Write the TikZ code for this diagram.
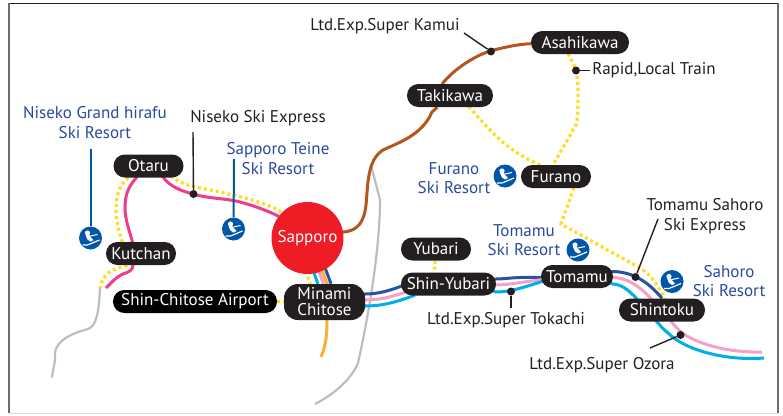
\documentclass[tikz,border=0pt]{standalone}
\usepackage{fontspec}
\setmainfont{PT Sans}
\usetikzlibrary{backgrounds}
\definecolor{stationblack}{HTML}{231F20}
\definecolor{resortblue}{HTML}{2A4A9F}
\definecolor{iconblue}{HTML}{0057A8}
\definecolor{kamuibrown}{HTML}{B5561F}
\definecolor{localyellow}{HTML}{FFDD22}
\definecolor{niseko}{HTML}{EE3D8B}
\definecolor{track}{HTML}{BDBDBD}
\definecolor{tokachi}{HTML}{2B52A0}
\definecolor{ozorapink}{HTML}{F5A0C8}
\definecolor{ozoracyan}{HTML}{00AEE8}
\definecolor{airorange}{HTML}{FBB034}
\definecolor{sapporored}{HTML}{EE1C25}
\tikzset{
  x=1pt,y=-1pt,
  station/.style={fill=stationblack,text=white,rounded corners=11.4pt,minimum height=23pt,inner sep=0pt,font=\fontsize{17}{18}\selectfont,align=center},
  lbl/.style={text=stationblack,font=\fontsize{17}{19.5}\selectfont,align=center,inner sep=0pt},
  resort/.style={text=resortblue,font=\fontsize{17}{19.5}\selectfont,align=center,inner sep=0pt},
  badge/.style={circle,fill=iconblue,minimum size=23pt,inner sep=0pt},
  dotmark/.style={circle,fill=stationblack,minimum size=8pt,inner sep=0pt},
  rail/.style={line width=3pt},
  local/.style={line width=3.3pt,localyellow,dash pattern=on 3pt off 3pt},
  leader/.style={stationblack,line width=1.4pt},
  bluelead/.style={iconblue,line width=2pt},
  skimark/.pic={
    \fill[white] (-3,-5) circle (2.6);
    \fill[white] (-5,-3) -- (-1,-3) -- (1,0) -- (3,2) -- (0,3.5) -- (-3,1.5) -- cycle;
    \draw[white,line width=1pt] (0,-2) -- (7,-3.5);
    \draw[white,line width=1.2pt] (-8,7) -- (-3,7) -- (9,2);
  },
}
\begin{document}
\begin{tikzpicture}
\useasboundingbox (0,0) rectangle (783,415);
% frame
\draw[line width=1pt,stationblack] (9,3.5) -- (778,3.5);
\draw[line width=1.5pt,gray!85!black] (9,3) -- (9,413);
\draw[line width=1.5pt,gray!85!black] (778,3) -- (778,413);
\draw[line width=1pt,gray!25] (9,413.5) -- (778,413.5);
% stations
\node[circle,fill=sapporored,minimum size=72pt,inner sep=0pt,text=white,font=\fontsize{17}{18}\selectfont] (sapporo) at (307.5,238) {Sapporo};
\node[station,minimum width=70pt] (otaru) at (148.5,166) {Otaru};
\node[station,minimum width=70pt] (kutchan) at (141,253.5) {Kutchan};
\node[station,minimum width=164pt,fill=black] (airport) at (195,301.5) {Shin-Chitose Airport};
\node[station,minimum width=81pt,minimum height=36pt,rounded corners=14pt,font=\fontsize{17}{16}\selectfont] (minami) at (324.5,302) {Minami\\Chitose};
\node[station,minimum width=98pt] (asahikawa) at (580,42.5) {Asahikawa};
\node[station,minimum width=86pt] (takikawa) at (450,95.5) {Takikawa};
\node[station,minimum width=70pt] (furano) at (556,176.5) {Furano};
\node[station,minimum width=70pt] (yubari) at (436,249) {Yubari};
\node[station,minimum width=95pt] (shinyubari) at (448.5,284) {Shin-Yubari};
\node[station,minimum width=72pt] (tomamu) at (577,276.5) {Tomamu};
\node[station,minimum width=86pt] (shintoku) at (662,310) {Shintoku};
% coordinates for line ends
\coordinate (gA) at (100,288);
\coordinate (gAend) at (52,377);
\coordinate (gBstart) at (371,165);
\coordinate (gBend) at (315,404);
\coordinate (airEnd) at (321,357);
\coordinate (pinkEnd) at (762,352);
\coordinate (cyanEnd) at (764,358);
\coordinate (nisekoEnd) at (106,288);
\coordinate (kinkY) at (561,224);
\begin{scope}[on background layer]
  % grey tracks
  \draw[track,line width=2.2pt,line cap=round] (gA) .. controls (99,310) and (97,326) .. (88,329) .. controls (70,334) and (58,340) .. (55,352) -- (55,360) -- (gAend);
  \draw[track,line width=2.2pt] (gBstart) -- (380,200) .. controls (380,240) and (372,300) .. (358,363) .. controls (352,378) and (335,394) .. (gBend);
  % Kamui
  \draw[rail,kamuibrown] (sapporo) -- (343,232) .. controls (358,231) and (364,222) .. (366,205) .. controls (368,185) and (367,160) .. (383,150) .. controls (400,142) and (422,135) .. (432,112) -- (takikawa);
  \draw[rail,kamuibrown] (takikawa) -- (442,84) .. controls (455,68) and (475,56) .. (490,51) .. controls (505,47) and (520,44) .. (asahikawa);
  % local yellow
  \draw[local] (asahikawa) -- (568,54) .. controls (574,64) and (578,72) .. (578,90) .. controls (578,115) and (578,125) .. (573,130) -- (553,165) -- (furano);
  \draw[local] (takikawa) -- (469,107) .. controls (490,130) and (505,150) .. (540,165) -- (furano);
  \draw[local] ([xshift=22pt]furano.center) -- (kinkY) -- (640,268) .. controls (650,274) and (658,284) .. (665,300);
  \draw[local] (otaru) -- (172,177) .. controls (180,183) and (190,186) .. (200,188) .. controls (225,193) and (260,200) .. (280,211) -- (sapporo);
  \draw[local] (otaru) -- (128,178) .. controls (120,185) and (116,193) .. (116,210) .. controls (116,222) and (120,235) .. (123,244);
  \draw[local] (kutchan) -- (126,266) .. controls (112,269) and (102,274) .. (gA);
  \draw[local] (airport) -- (minami);
  \draw[local] ([xshift=-16pt]sapporo.center) -- ([xshift=-14pt]minami.north);
  \draw[local] (yubari) -- (434,275);
  % Niseko line
  \draw[rail,niseko] (otaru) -- (163,177) .. controls (170,187) and (182,191) .. (193,194) .. controls (210,199) and (225,198) .. (240,202) .. controls (255,206) and (268,211) .. (278,216) -- (sapporo);
  \draw[rail,niseko] (otaru) -- (137,177) .. controls (130,185) and (125,192) .. (125,208) .. controls (125,220) and (130,232) .. (133,244);
  \draw[rail,niseko] (kutchan) -- (133,265) .. controls (133,271) and (128,272) .. (123,274) .. controls (116,277) and (110,284) .. (nisekoEnd);
  % trunks from Sapporo
  \draw[rail,ozoracyan] ([xshift=-6.5pt]sapporo.center) -- ([xshift=-6.5pt]minami.north);
  \draw[rail,ozorapink] ([xshift=-1pt]sapporo.center) -- ([xshift=-1pt]minami.north);
  \draw[rail,airorange] ([xshift=2.5pt]sapporo.center) -- ([xshift=2.5pt]minami.north) -- ([xshift=2.5pt]minami.south) .. controls (327,335) and (326,345) .. (airEnd);
  \draw[rail,tokachi] ([xshift=6.5pt]sapporo.center) -- ([xshift=6.5pt]minami.north);
  % Minami to Shin-Yubari
  \draw[rail,tokachi] ([yshift=-8pt]minami.center) -- (365,294) .. controls (380,294) and (392,290) .. (415,281);
  \draw[rail,ozorapink] ([yshift=-2pt]minami.center) -- (365,300) .. controls (380,300) and (392,297) .. (415,289);
  \draw[rail,ozoracyan] ([yshift=4pt]minami.center) -- (365,306) .. controls (380,306) and (395,303) .. (415,295);
  % Shin-Yubari to Tomamu
  \draw[rail,tokachi] ([yshift=-5pt]shinyubari.center) -- (496,279) .. controls (510,279) and (525,274) .. ([yshift=-5pt]tomamu.center);
  \draw[rail,ozorapink] ([yshift=1pt]shinyubari.center) -- (496,285) .. controls (510,285) and (525,281) .. ([yshift=1pt]tomamu.center);
  \draw[rail,ozoracyan] ([yshift=8pt]shinyubari.center) -- (496,292) .. controls (510,292) and (525,288) .. ([yshift=7.5pt]tomamu.center);
  % Tomamu to Shintoku and onward
  \draw[rail,tokachi] ([yshift=-5pt]tomamu.center) -- (613,271.5) .. controls (635,272) and (650,284) .. (shintoku.north);
  \draw[rail,ozorapink] ([yshift=1pt]tomamu.center) -- (613,277.5) .. controls (632,278) and (645,292) .. (655,303) .. controls (665,313) and (672,324) .. (680,331) .. controls (692,342) and (725,353) .. (pinkEnd);
  \draw[rail,ozoracyan] ([yshift=7.5pt]tomamu.center) -- (613,284) .. controls (625,285) and (632,294) .. (640,302) .. controls (650,312) and (658,325) .. (668,333) .. controls (685,350) and (725,361) .. (cyanEnd);
\end{scope}
% labels
\node[lbl] (kamuiL) at (385,26) {Ltd.Exp.Super Kamui};
\node[lbl] (rapidL) at (654,70) {Rapid,Local Train};
\node[lbl] (nskL) at (258,118) {Niseko Ski Express};
\node[lbl] (sahoroL) at (705,216) {Tomamu Sahoro\\Ski Express};
\node[lbl] (tokachiL) at (506,320) {Ltd.Exp.Super Tokachi};
\node[lbl] (ozoraL) at (602,365) {Ltd.Exp.Super Ozora};
\node[resort] (r1) at (95,122.5) {Niseko Grand hirafu\\Ski Resort};
\node[resort] (r2) at (278,158.5) {Sapporo Teine\\Ski Resort};
\node[resort] (r3) at (454,178) {Furano\\Ski Resort};
\node[resort] (r4) at (524,240) {Tomamu\\Ski Resort};
\node[resort] (r5) at (729,281) {Sahoro\\Ski Resort};
% leader dots
\node[dotmark] (d1) at (491,51.5) {};
\node[dotmark] (d2) at (576,70.5) {};
\node[dotmark] (d3) at (193.5,194) {};
\node[dotmark] (d4) at (635.5,277) {};
\node[dotmark] (d5) at (511,291.5) {};
\node[dotmark] (d6) at (680.5,335) {};
\coordinate (e1) at (464,33);
\coordinate (e2) at (590,70.5);
\coordinate (e3) at (193,132);
\coordinate (e4) at (658,219);
\coordinate (e5) at (511,308);
\coordinate (e6) at (650,348);
\draw[leader] (d1) -- (e1);
\draw[leader] (d2) -- (e2);
\draw[leader] (d3) -- (e3);
\draw[leader] (d4) -- (e4);
\draw[leader] (d5) -- (e5);
\draw[leader] (d6) -- (e6);
% ski badges
\node[badge] (b1) at (90.5,238) {};
\node[badge] (b2) at (233.5,229) {};
\node[badge] (b3) at (505,176) {};
\node[badge] (b4) at (578,250) {};
\node[badge] (b5) at (672,281.5) {};
\foreach \b in {b1,b2,b3,b4,b5} \pic at (\b) {skimark};
\coordinate (f1) at (90.5,149);
\coordinate (f2) at (234,159);
\draw[bluelead] (f1) -- (b1);
\draw[bluelead] (f2) -- (b2);
\end{tikzpicture}
\end{document}
